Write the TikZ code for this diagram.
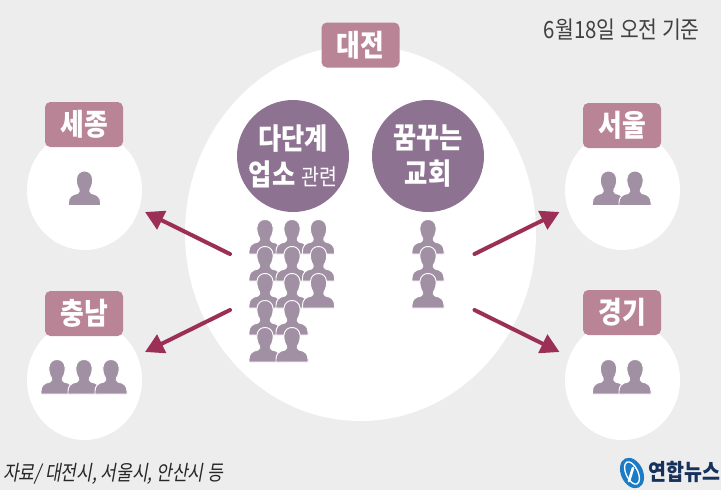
\documentclass[tikz,border=0pt]{standalone}
\usepackage{fontspec}
\setmainfont{Liberation Sans}
\newfontfamily\krfont[FakeStretch=0.86]{Noto Sans CJK KR}
\newfontfamily\krslant[FakeStretch=0.82,FakeSlant=0.18]{Noto Sans CJK KR}
\usetikzlibrary{shapes.geometric,arrows.meta}
\definecolor{bgcol}{HTML}{EDEDED}
\definecolor{darkcol}{HTML}{8D7291}
\definecolor{labelcol}{HTML}{B98495}
\definecolor{personcol}{HTML}{A18FA4}
\definecolor{arrowcol}{HTML}{9C2F55}
\definecolor{logocol}{HTML}{1B7BC4}
\definecolor{logotxt}{HTML}{16325C}
\begin{document}
\begin{tikzpicture}[x=0.75pt,y=-0.75pt,
    every node/.style={inner sep=0pt,text=white,font=\krfont},
    region/.style={ellipse,fill=white,minimum width=86.25pt,minimum height=90pt},
    bigregion/.style={region,minimum width=263.25pt,minimum height=282pt},
    namebox/.style={rectangle,fill=labelcol,rounded corners=4pt,minimum width=58.5pt,minimum height=33.75pt,font=\krfont\bfseries\fontsize{22.5}{24}\selectfont},
    placebubble/.style={circle,fill=darkcol,minimum size=84pt,align=center,font=\krfont\bfseries\fontsize{22}{27}\selectfont},
    movearrow/.style={draw=arrowcol,line width=3pt,line cap=round,-{Triangle[length=14pt,width=15pt]}},
    person/.pic={\path [fill=personcol,draw=white,line width=0.7pt] (-16,0) -- (-16,-3)
        .. controls (-16,-8) and (-13,-11) .. (-7,-12)
        .. controls (-5,-13) and (-5,-15) .. (-5.5,-16)
        .. controls (-7.5,-19) and (-8.5,-24) .. (-8,-27)
        .. controls (-7.5,-32) and (-4,-34.5) .. (0,-34.5)
        .. controls (4,-34.5) and (7.5,-32) .. (8,-27)
        .. controls (8.5,-24) and (7.5,-19) .. (5.5,-16)
        .. controls (5,-15) and (5,-13) .. (7,-12)
        .. controls (13,-11) and (16,-8) .. (16,-3) -- (16,0) -- cycle;}]
    \fill [bgcol] (0,0) rectangle (721,490);
    \useasboundingbox (0,0) rectangle (721,490);
    % regions
    \node [bigregion] (daejeon) at (360.5,233) {};
    \node [region] (sejong) at (84.5,190) {};
    \node [region] (chungnam) at (84.5,380) {};
    \node [region] (seoul) at (622.5,190) {};
    \node [region] (gyeonggi) at (622.5,380) {};
    \node [namebox] (daejeonname) at (360.5,45) {대전};
    \node [namebox] (sejongname) at (84,124.5) {세종};
    \node [namebox] (chungnamname) at (84,313.5) {충남};
    \node [namebox] (seoulname) at (622,125.5) {서울};
    \node [namebox] (gyeongginame) at (622,312.5) {경기};
    \node [placebubble] (multilevel) at (293,156) {다단계\\업소 {\fontsize{17}{20}\mdseries\selectfont 관련}};
    \node [placebubble] (church) at (428,156) {꿈꾸는\\교회};
    % people
    \foreach \py in {254,281,308,335,362}
        \foreach \px in {265,292}
            \pic at (\px,\py) {person};
    \foreach \py in {254,281,308}
        \pic at (318.5,\py) {person};
    \foreach \py in {254,281,308}
        \pic at (428,\py) {person};
    \pic at (84.5,205.5) {person};
    \foreach \px in {57,84,111}
        \pic at (\px,394) {person};
    \foreach \px in {608.5,635}
        \pic at (\px,205.5) {person};
    \foreach \px in {608.5,635}
        \pic at (\px,394) {person};
    % arrows
    \coordinate (leftup) at (230,254);
    \coordinate (leftdown) at (230,310);
    \coordinate (rightup) at (474.5,254);
    \coordinate (rightdown) at (474.5,310);
    \coordinate (sejongend) at (145,212);
    \coordinate (chungnamend) at (145,352);
    \coordinate (seoulend) at (559.5,212);
    \coordinate (gyeonggiend) at (559.5,352);
    \draw [movearrow] (leftup) -- (sejongend);
    \draw [movearrow] (leftdown) -- (chungnamend);
    \draw [movearrow] (rightup) -- (seoulend);
    \draw [movearrow] (rightdown) -- (gyeonggiend);
    % texts
    \node [text=black!75,anchor=east,font=\krfont\fontsize{17.8}{20}\selectfont] (basetime) at (700,30) {6월18일 오전 기준};
    \node [text=black!85,anchor=west,font=\krslant\fontsize{15.6}{18}\selectfont] (source) at (3,474) {자료/ 대전시, 서울시, 안산시 등};
    % logo
    \fill [logocol,rotate around={25:(632,473)}] (632,473) ellipse (11 and 16);
    \draw [white,line width=1pt,rotate around={25:(632,473)}] (632,473) ellipse (6 and 12);
    \draw [white,line width=2pt,line cap=round] (633,468) -- (629,481);
    \node [text=logotxt,anchor=west,font=\krfont\bfseries\fontsize{17}{18}\selectfont] (logotext) at (648,472) {연합뉴스};
\end{tikzpicture}
\end{document}
